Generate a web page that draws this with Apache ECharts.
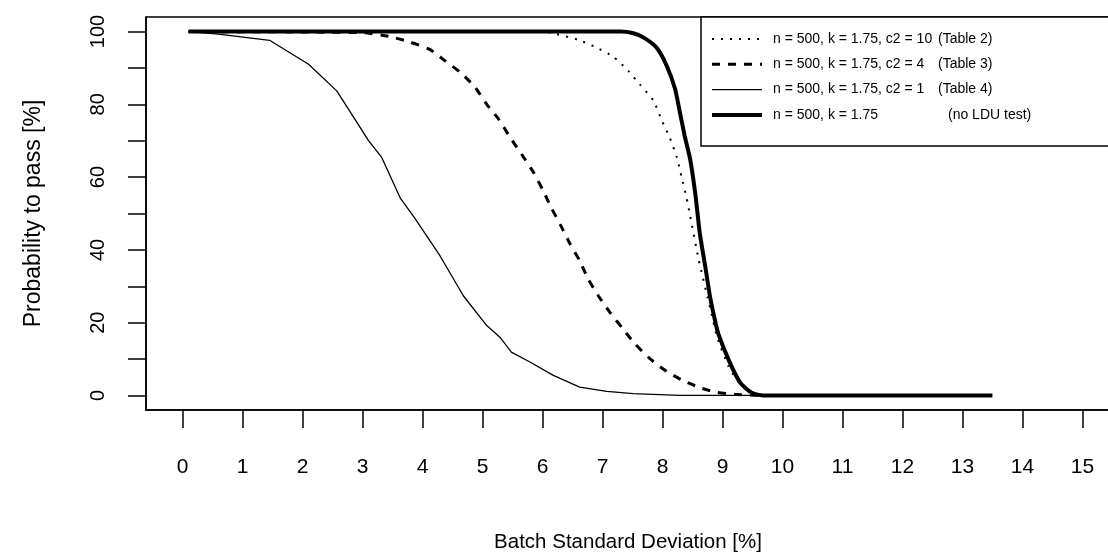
<!DOCTYPE html>
<html lang="en">
<head>
    <meta charset="UTF-8">
    <title>probability to pass</title>
    <style>
        html, body { margin: 0; padding: 0; background: #fff; }
        #chart { width: 1108px; height: 552px; }
    </style>
</head>
<body>
<div id="chart"></div>
<script src="https://cdn.jsdelivr.net/npm/echarts@6/dist/echarts.min.js"></script>
<script>
    // c2 = 10 (Table 2), dotted
    var t2X = [0.1, 6.0, 6.23, 6.6, 6.9, 7.18, 7.43, 7.62, 7.85, 7.98, 8.12, 8.24, 8.32, 8.4, 8.46, 8.6, 8.8, 8.91, 9.1, 9.3, 9.5, 9.7];
    var t2Y = [100, 100, 99.3, 97.7, 95.6, 93.1, 89.2, 85.5, 81.0, 75.9, 70.9, 65.4, 59.9, 54.4, 49.4, 37.6, 23.6, 16.1, 8, 3, 0.7, 0];
    // c2 = 4 (Table 3), dashed
    var t3X = [0.1, 3.0, 3.46, 3.79, 4.12, 4.38, 4.65, 4.88, 5.07, 5.27, 5.46, 5.65, 5.85, 6.01, 6.14, 6.32, 6.46, 6.62, 6.76, 6.93, 7.12, 7.34, 7.54, 7.79, 8.07, 8.34, 8.65, 8.9, 9.2, 9.6];
    var t3Y = [100, 99.7, 98.6, 97.1, 95.1, 91.9, 88.5, 84.6, 80.0, 75.9, 70.9, 66.3, 61.3, 56.3, 51.8, 46.2, 41.6, 37.0, 32.0, 27.4, 22.9, 18.3, 14.2, 10.1, 6.6, 4.1, 2.0, 0.9, 0.3, 0];
    // c2 = 1 (Table 4), thin solid
    var t4X = [0.1, 0.6, 1.45, 2.1, 2.57, 3.1, 3.32, 3.63, 3.87, 4.29, 4.68, 5.07, 5.29, 5.48, 5.79, 6.18, 6.62, 7.07, 7.51, 8.29, 9.6];
    var t4Y = [100, 99.3, 97.6, 91.0, 83.7, 70.0, 65.4, 54.2, 48.7, 38.4, 27.4, 19.2, 16.0, 11.9, 9.2, 5.5, 2.3, 1.1, 0.5, 0, 0];
    // no LDU test, thick solid
    var noX = [0.1, 7.3, 7.5, 7.68, 7.9, 8.07, 8.21, 8.29, 8.37, 8.46, 8.55, 8.62, 8.71, 8.79, 8.87, 8.93, 9.11, 9.28, 9.4, 9.51, 9.68, 13.5];
    var noY = [100, 100, 99.6, 98.4, 95.6, 90.6, 84.2, 77.8, 71.3, 65.0, 55.0, 44.8, 35.7, 27.4, 21.0, 17.0, 9.5, 3.9, 1.8, 0.6, 0, 0];

    var xTicks = [0, 1, 2, 3, 4, 5, 6, 7, 8, 9, 10, 11, 12, 13, 14, 15];
    var yTicks = [0, 10, 20, 30, 40, 50, 60, 70, 80, 90, 100];
    var yLabels = [0, 20, 40, 60, 80, 100];

    var names = [
        "n = 500, k = 1.75, c2 = 10 (Table 2)",
        "n = 500, k = 1.75, c2 = 4   (Table 3)",
        "n = 500, k = 1.75, c2 = 1   (Table 4)",
        "n = 500, k = 1.75        (no LDU test)"
    ];

    function pairs(xs, ys) {
        var out = [];
        for (var i = 0; i < xs.length; i++) {
            out.push([xs[i], ys[i]]);
        }
        return out;
    }

    var font = "Liberation Sans";
    var chart = echarts.init(document.getElementById("chart"));

    var option = {
        animation: false,
        backgroundColor: "#fff",
        textStyle: {fontFamily: font, color: "#000"},
        grid: {
            left: 146, top: 17, bottom: 142, width: 988,
            show: true, borderColor: "#000", borderWidth: 1.5,
            containLabel: false,
            outerBoundsMode: "none"
        },
        legend: {
            left: 701, top: 17,
            orient: "vertical",
            backgroundColor: "#fff",
            borderColor: "#000", borderWidth: 1.5, borderRadius: 0,
            padding: [15, 200, 24, 9],
            itemWidth: 50, itemHeight: 16, itemGap: 11.3,
            lineStyle: {width: "inherit"},
            itemStyle: {opacity: 0},
            textStyle: {
                fontFamily: font, fontSize: 14, color: "#000", padding: [0, 0, 0, 6],
                rich: {
                    a: {fontFamily: font, fontSize: 14, width: 165},
                    a2: {fontFamily: font, fontSize: 14, width: 175},
                    b: {fontFamily: font, fontSize: 14}
                }
            },
            formatter: function (name) {
                var i = name.indexOf("(");
                var head = name.substring(0, i).trim();
                var tail = name.substring(i);
                var key = tail.indexOf("LDU") >= 0 ? "a2" : "a";
                return "{" + key + "|" + head + "}{b|" + tail + "}";
            },
            data: names
        },
        xAxis: {
            type: "value",
            min: -0.61, max: 15.86,
            name: "Batch Standard Deviation [%]",
            nameLocation: "middle",
            nameGap: 122,
            nameTextStyle: {fontFamily: font, fontSize: 20.5, color: "#000", padding: [0, 24, 0, 0]},
            axisLine: {show: true, onZero: false, lineStyle: {color: "#000", width: 1.5}},
            axisTick: {show: true, inside: false, length: 18, customValues: xTicks, lineStyle: {color: "#000", width: 1.5}},
            axisLabel: {customValues: xTicks, margin: 47, fontFamily: font, fontSize: 21, color: "#000"},
            splitLine: {show: false}
        },
        yAxis: {
            type: "value",
            min: -4, max: 104,
            name: "Probability to pass [%]",
            nameLocation: "middle",
            nameGap: 101,
            nameTextStyle: {fontFamily: font, fontSize: 23, color: "#000"},
            axisLine: {show: true, onZero: false, lineStyle: {color: "#000", width: 1.5}},
            axisTick: {show: true, inside: false, length: 18, customValues: yTicks, lineStyle: {color: "#000", width: 1.5}},
            axisLabel: {customValues: yLabels, rotate: 90, margin: 38, fontFamily: font, fontSize: 20, color: "#000"},
            splitLine: {show: false}
        },
        series: [
            {
                name: names[0], type: "line", symbol: "none",
                smooth: 0.2,
                data: pairs(t2X, t2Y),
                lineStyle: {color: "#000", width: 2, type: [2, 7]},
                itemStyle: {color: "#000"},
                z: 3
            },
            {
                name: names[1], type: "line", symbol: "none",
                smooth: 0.2,
                data: pairs(t3X, t3Y),
                lineStyle: {color: "#000", width: 3, type: [8, 8]},
                itemStyle: {color: "#000"},
                z: 2
            },
            {
                name: names[2], type: "line", symbol: "none",
                data: pairs(t4X, t4Y),
                lineStyle: {color: "#000", width: 1.3},
                itemStyle: {color: "#000"},
                z: 2
            },
            {
                name: names[3], type: "line", symbol: "none",
                smooth: 0.2,
                data: pairs(noX, noY),
                lineStyle: {color: "#000", width: 4},
                itemStyle: {color: "#000"},
                z: 2
            }
        ]
    };
    chart.setOption(option);
</script>
</body>
</html>
